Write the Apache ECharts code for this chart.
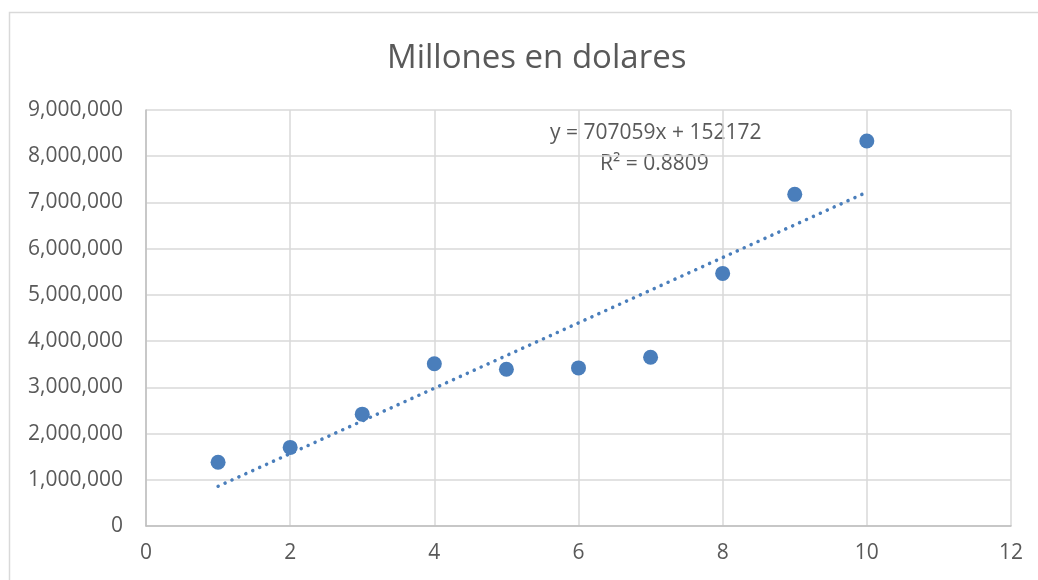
<!DOCTYPE html>
<html>
<head>
<meta charset="utf-8">
<script src="https://cdn.jsdelivr.net/npm/echarts@6/dist/echarts.min.js"></script>
<style>
  html, body { margin: 0; padding: 0; background: #fff; }
  #chart { width: 1038px; height: 580px; }
</style>
</head>
<body>
<div id="chart"></div>
<script>
// ---- datos ----
const xValues = [1, 2, 3, 4, 5, 6, 7, 8, 9, 10];
const yValues = [1380000, 1700000, 2420000, 3510000, 3390000, 3420000, 3650000, 5465000, 7175000, 8330000];
// extremos de la línea de tendencia (y = 707059x + 152172)
const trendX = [1, 10];
const trendY = [859231, 7222762];
const eqText = 'y = 707059x + 152172';
const r2Text = 'R² = 0.8809';

const BLUE = '#4a7ebb';
const TEXT = '#595959';
const FONT = '"Open Sans", "Liberation Sans", sans-serif';

const chart = echarts.init(document.getElementById('chart'));
chart.setOption({
    backgroundColor: '#fff',
    animation: false,
    title: {
        text: 'Millones en dolares',
        left: 382,
        top: 37,
        textStyle: { color: TEXT, fontFamily: FONT, fontSize: 33, fontWeight: 'normal' }
    },
    graphic: [{
        type: 'rect',
        shape: { x: 9.5, y: 12.5, width: 1100, height: 700 },
        style: { fill: 'none', stroke: '#d9d9d9', lineWidth: 1.5 },
        silent: true
    }, {
        type: 'text',
        left: 550, top: 123,
        style: { text: eqText, fill: TEXT, font: '21px ' + FONT }
    }, {
        type: 'text',
        left: 600, top: 154,
        style: { text: r2Text, fill: TEXT, font: '21px ' + FONT }
    }],
    grid: { left: 146, right: 27, top: 110, bottom: 54 },
    xAxis: {
        type: 'value',
        min: 0, max: 12, interval: 2,
        axisLine: { show: true, lineStyle: { color: '#bfbfbf', width: 1.5 } },
        axisTick: { show: false },
        axisLabel: { color: TEXT, fontFamily: FONT, fontSize: 21, margin: 17 },
        splitLine: { show: true, lineStyle: { color: '#d9d9d9', width: 1.5 } }
    },
    yAxis: {
        type: 'value',
        min: 0, max: 9000000, interval: 1000000,
        axisLine: { show: true, lineStyle: { color: '#bfbfbf', width: 1.5 } },
        axisTick: { show: false },
        axisLabel: {
            color: TEXT, fontFamily: FONT, fontSize: 21, margin: 23,
            formatter: v => v.toLocaleString('en-US')
        },
        splitLine: { show: true, lineStyle: { color: '#d9d9d9', width: 1.5 } }
    },
    series: [{
        type: 'line',
        data: trendX.map((x, i) => [x, trendY[i]]),
        symbol: 'none',
        silent: true,
        lineStyle: { color: BLUE, width: 3.5, type: [0.1, 7.5], cap: 'round' },
        z: 2
    }, {
        type: 'scatter',
        data: xValues.map((x, i) => [x, yValues[i]]),
        symbolSize: 15,
        itemStyle: { color: BLUE, opacity: 1 },
        z: 3
    }]
});
</script>
</body>
</html>
